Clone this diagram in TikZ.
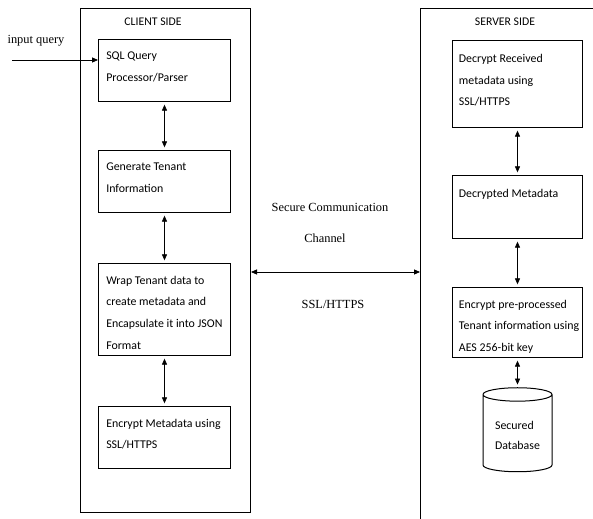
\documentclass[tikz,border=0pt]{standalone}
\usepackage{fontspec}
\setmainfont{Liberation Serif}
\newfontfamily\calfont{Carlito}
\usetikzlibrary{arrows.meta}
\usetikzlibrary{shapes.geometric}

\tikzset{
  box/.style={draw, line width=0.75, inner sep=0pt, anchor=north west},
  boxtext/.style={anchor=north west, inner sep=0pt, align=left, font=\calfont\fontsize{8.9}{16.3}\selectfont},
  sidetext/.style={inner sep=0pt, font=\calfont\fontsize{8.8}{11}\selectfont},
  chantext/.style={inner sep=0pt, font=\fontsize{9.3}{11}\selectfont},
  link/.style={{Triangle[length=4.5pt,width=3.8pt]}-{Triangle[length=4.5pt,width=3.8pt]}, line width=0.6, shorten <=2pt, shorten >=2pt},
}

\begin{document}
\begin{tikzpicture}[x=0.75pt,y=0.75pt,yscale=-1,xscale=1]
\useasboundingbox (0,0) rectangle (593,518);
\clip (0,0) rectangle (593,518);

%Shape: Rectangle [client side]
\node[box, minimum width=170*0.75pt, minimum height=504*0.75pt] (client) at (80,8) {};
%Shape: Rectangle [server side, runs off the page]
\node[box, minimum width=200*0.75pt, minimum height=530*0.75pt] (server) at (420,8) {};

% Text Node
\draw (153,22) node [sidetext] (clientlbl) {CLIENT SIDE};
% Text Node
\draw (505,22) node [sidetext] (serverlbl) {SERVER SIDE};

%Shape: Rectangle [client boxes]
\node[box, minimum width=132*0.75pt, minimum height=62*0.75pt] (sql) at (98,39) {};
\node[box, minimum width=132*0.75pt, minimum height=62*0.75pt] (gen) at (98,150) {};
\node[box, minimum width=132*0.75pt, minimum height=92*0.75pt] (wrap) at (98,263) {};
\node[box, minimum width=132*0.75pt, minimum height=62*0.75pt] (enc) at (98,406) {};

% Text Node
\node[boxtext] (sqltxt) at ([xshift=6pt,yshift=9.5pt]sql.north west) {SQL Query\\Processor/Parser};
% Text Node
\node[boxtext] (gentxt) at ([xshift=6pt,yshift=9.5pt]gen.north west) {Generate Tenant\\Information};
% Text Node
\node[boxtext] (wraptxt) at ([xshift=6pt,yshift=9.5pt]wrap.north west) {Wrap Tenant data to\\create metadata and\\Encapsulate it into JSON\\Format};
% Text Node
\node[boxtext] (enctxt) at ([xshift=6pt,yshift=9.5pt]enc.north west) {Encrypt Metadata using\\SSL/HTTPS};

%Shape: Rectangle [server boxes]
\node[box, minimum width=130*0.75pt, minimum height=87*0.75pt] (dec) at (452,40) {};
\node[box, minimum width=130*0.75pt, minimum height=63*0.75pt] (dmeta) at (452,175) {};
\node[box, minimum width=130*0.75pt, minimum height=70*0.75pt] (aes) at (452,287) {};

% Text Node
\node[boxtext] (dectxt) at ([xshift=5pt,yshift=10.5pt]dec.north west) {Decrypt Received\\metadata using\\SSL/HTTPS};
% Text Node
\node[boxtext] (dmetatxt) at ([xshift=5pt,yshift=10.5pt]dmeta.north west) {Decrypted Metadata};
% Text Node
\node[boxtext] (aestxt) at ([xshift=5pt,yshift=9.5pt]aes.north west) {Encrypt pre-processed\\Tenant information using\\AES 256-bit key};

%Shape: Can
\node[draw, line width=0.75, cylinder, shape border rotate=90, aspect=0.25, minimum width=69*0.75pt, minimum height=84*0.75pt, align=left, font=\calfont\fontsize{8.9}{15}\selectfont] (db) at (517.5,435) {Secured\\Database};

% Text Node
\draw (36,41) node [chantext] (inlbl) {input query};
% Text Node
\draw (330,207) node [chantext] (chan1) {Secure Communication};
% Text Node
\draw (325,238) node [chantext] (chan2) {Channel};
% Text Node
\draw (333,304) node [chantext] (chan3) {SSL/HTTPS};

%Straight Lines
\coordinate (inq) at (12,60);
\draw[-{Triangle[length=4.5pt,width=3.8pt]}, line width=0.6] (inq) -- (inq -| sql.west);
\draw[link] (sql) -- (gen);
\draw[link] (gen) -- (wrap);
\draw[link] (wrap) -- (enc);
\draw[link] (dec) -- (dmeta);
\draw[link] (dmeta) -- (aes);
\draw[link] (aes) -- (db);
\coordinate (ch) at (335,272);
\draw[link, shorten <=0pt, shorten >=0pt] (ch -| client.east) -- (ch -| server.west);

\end{tikzpicture}
\end{document}
